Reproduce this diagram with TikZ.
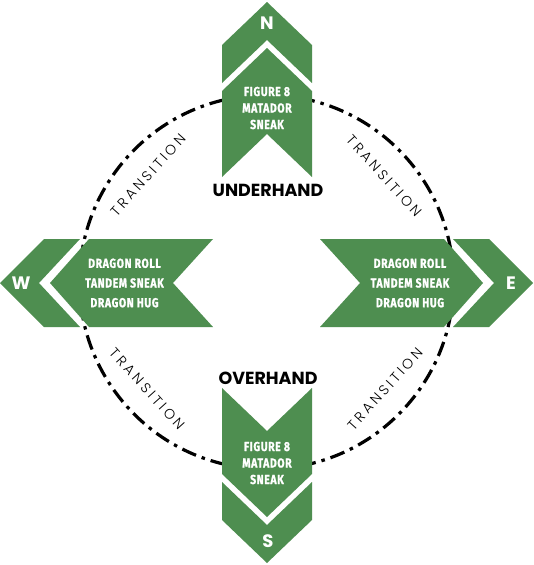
\documentclass[tikz,border=0pt]{standalone}
\usepackage{fontspec}
\setmainfont{Poppins}
\newfontfamily\condfont{Fira Sans}[FakeStretch=0.8,LetterSpace=5,FakeBold=1.2]
\newfontfamily\lightfont{Poppins Light}[LetterSpace=22]
\definecolor{leaf}{RGB}{78,142,80}
\begin{document}
\begin{tikzpicture}[x=1pt,y=-1pt,
  chev/.style={fill=leaf,draw=none},
  ring/.style={line width=3.2pt,dash pattern=on 15pt off 6pt on 3.5pt off 6pt},
  dirlab/.style={text=white,font=\bfseries\fontsize{18}{18}\selectfont,inner sep=0pt},
  handlab/.style={text=black,font=\bfseries\fontsize{17.5}{17.5}\selectfont,inner sep=0pt},
  vtext/.style={text=white,align=center,inner sep=0pt,font=\condfont\bfseries\fontsize{13}{16.5}\selectfont},
  htext/.style={text=white,align=center,inner sep=0pt,font=\condfont\bfseries\fontsize{13}{19.7}\selectfont},
  trans/.style={text=black,inner sep=0pt,font=\lightfont\fontsize{14}{14}\selectfont}]
\useasboundingbox (0,0) rectangle (533,565);
\fill[white] (0,0) rectangle (533,565);
% dash-dot ring
\draw[ring] (266.5,282) circle[radius=187];
% North
\fill[chev] (267,2) -- (312,45) -- (312,83) -- (267,40) -- (222,83) -- (222,45) -- cycle;
\fill[chev] (267,48) -- (312,91) -- (312,177) -- (267,134) -- (222,177) -- (222,91) -- cycle;
% South
\fill[chev] (267,563) -- (312,520) -- (312,482) -- (267,525) -- (222,482) -- (222,520) -- cycle;
\fill[chev] (267,517) -- (312,474) -- (312,388) -- (267,431) -- (222,388) -- (222,474) -- cycle;
% West
\fill[chev] (0,283) -- (44,239) -- (80,239) -- (39,283) -- (80,327) -- (44,327) -- cycle;
\fill[chev] (50,283) -- (89,239) -- (213,239) -- (173,283) -- (213,327) -- (89,327) -- cycle;
% East
\fill[chev] (533,283) -- (489,239) -- (453,239) -- (494,283) -- (453,327) -- (489,327) -- cycle;
\fill[chev] (483,283) -- (444,239) -- (320,239) -- (360,283) -- (320,327) -- (444,327) -- cycle;
% direction letters
\node[dirlab] (n) at (267,23) {N};
\node[dirlab] (s) at (268,541) {S};
\node[dirlab] (w) at (21,283) {W};
\node[dirlab] (e) at (511,283) {E};
% hand labels
\node[handlab] (under) at (268,190) {UNDERHAND};
\node[handlab] (over) at (268,378) {OVERHAND};
% move texts
\node[vtext] (ntext) at (267,108) {FIGURE 8\\MATADOR\\SNEAK};
\node[vtext] (stext) at (267,463) {FIGURE 8\\MATADOR\\SNEAK};
\node[htext] (wtext) at (124.5,283) {DRAGON ROLL\\TANDEM SNEAK\\DRAGON HUG};
\node[htext] (etext) at (410,283) {DRAGON ROLL\\TANDEM SNEAK\\DRAGON HUG};
% transitions
\node[trans,rotate=48] (tnw) at (148,175) {TRANSITION};
\node[trans,rotate=-48] (tne) at (384,176) {TRANSITION};
\node[trans,rotate=-48] (tsw) at (147,389) {TRANSITION};
\node[trans,rotate=48] (tse) at (385,389) {TRANSITION};
\end{tikzpicture}
\end{document}
